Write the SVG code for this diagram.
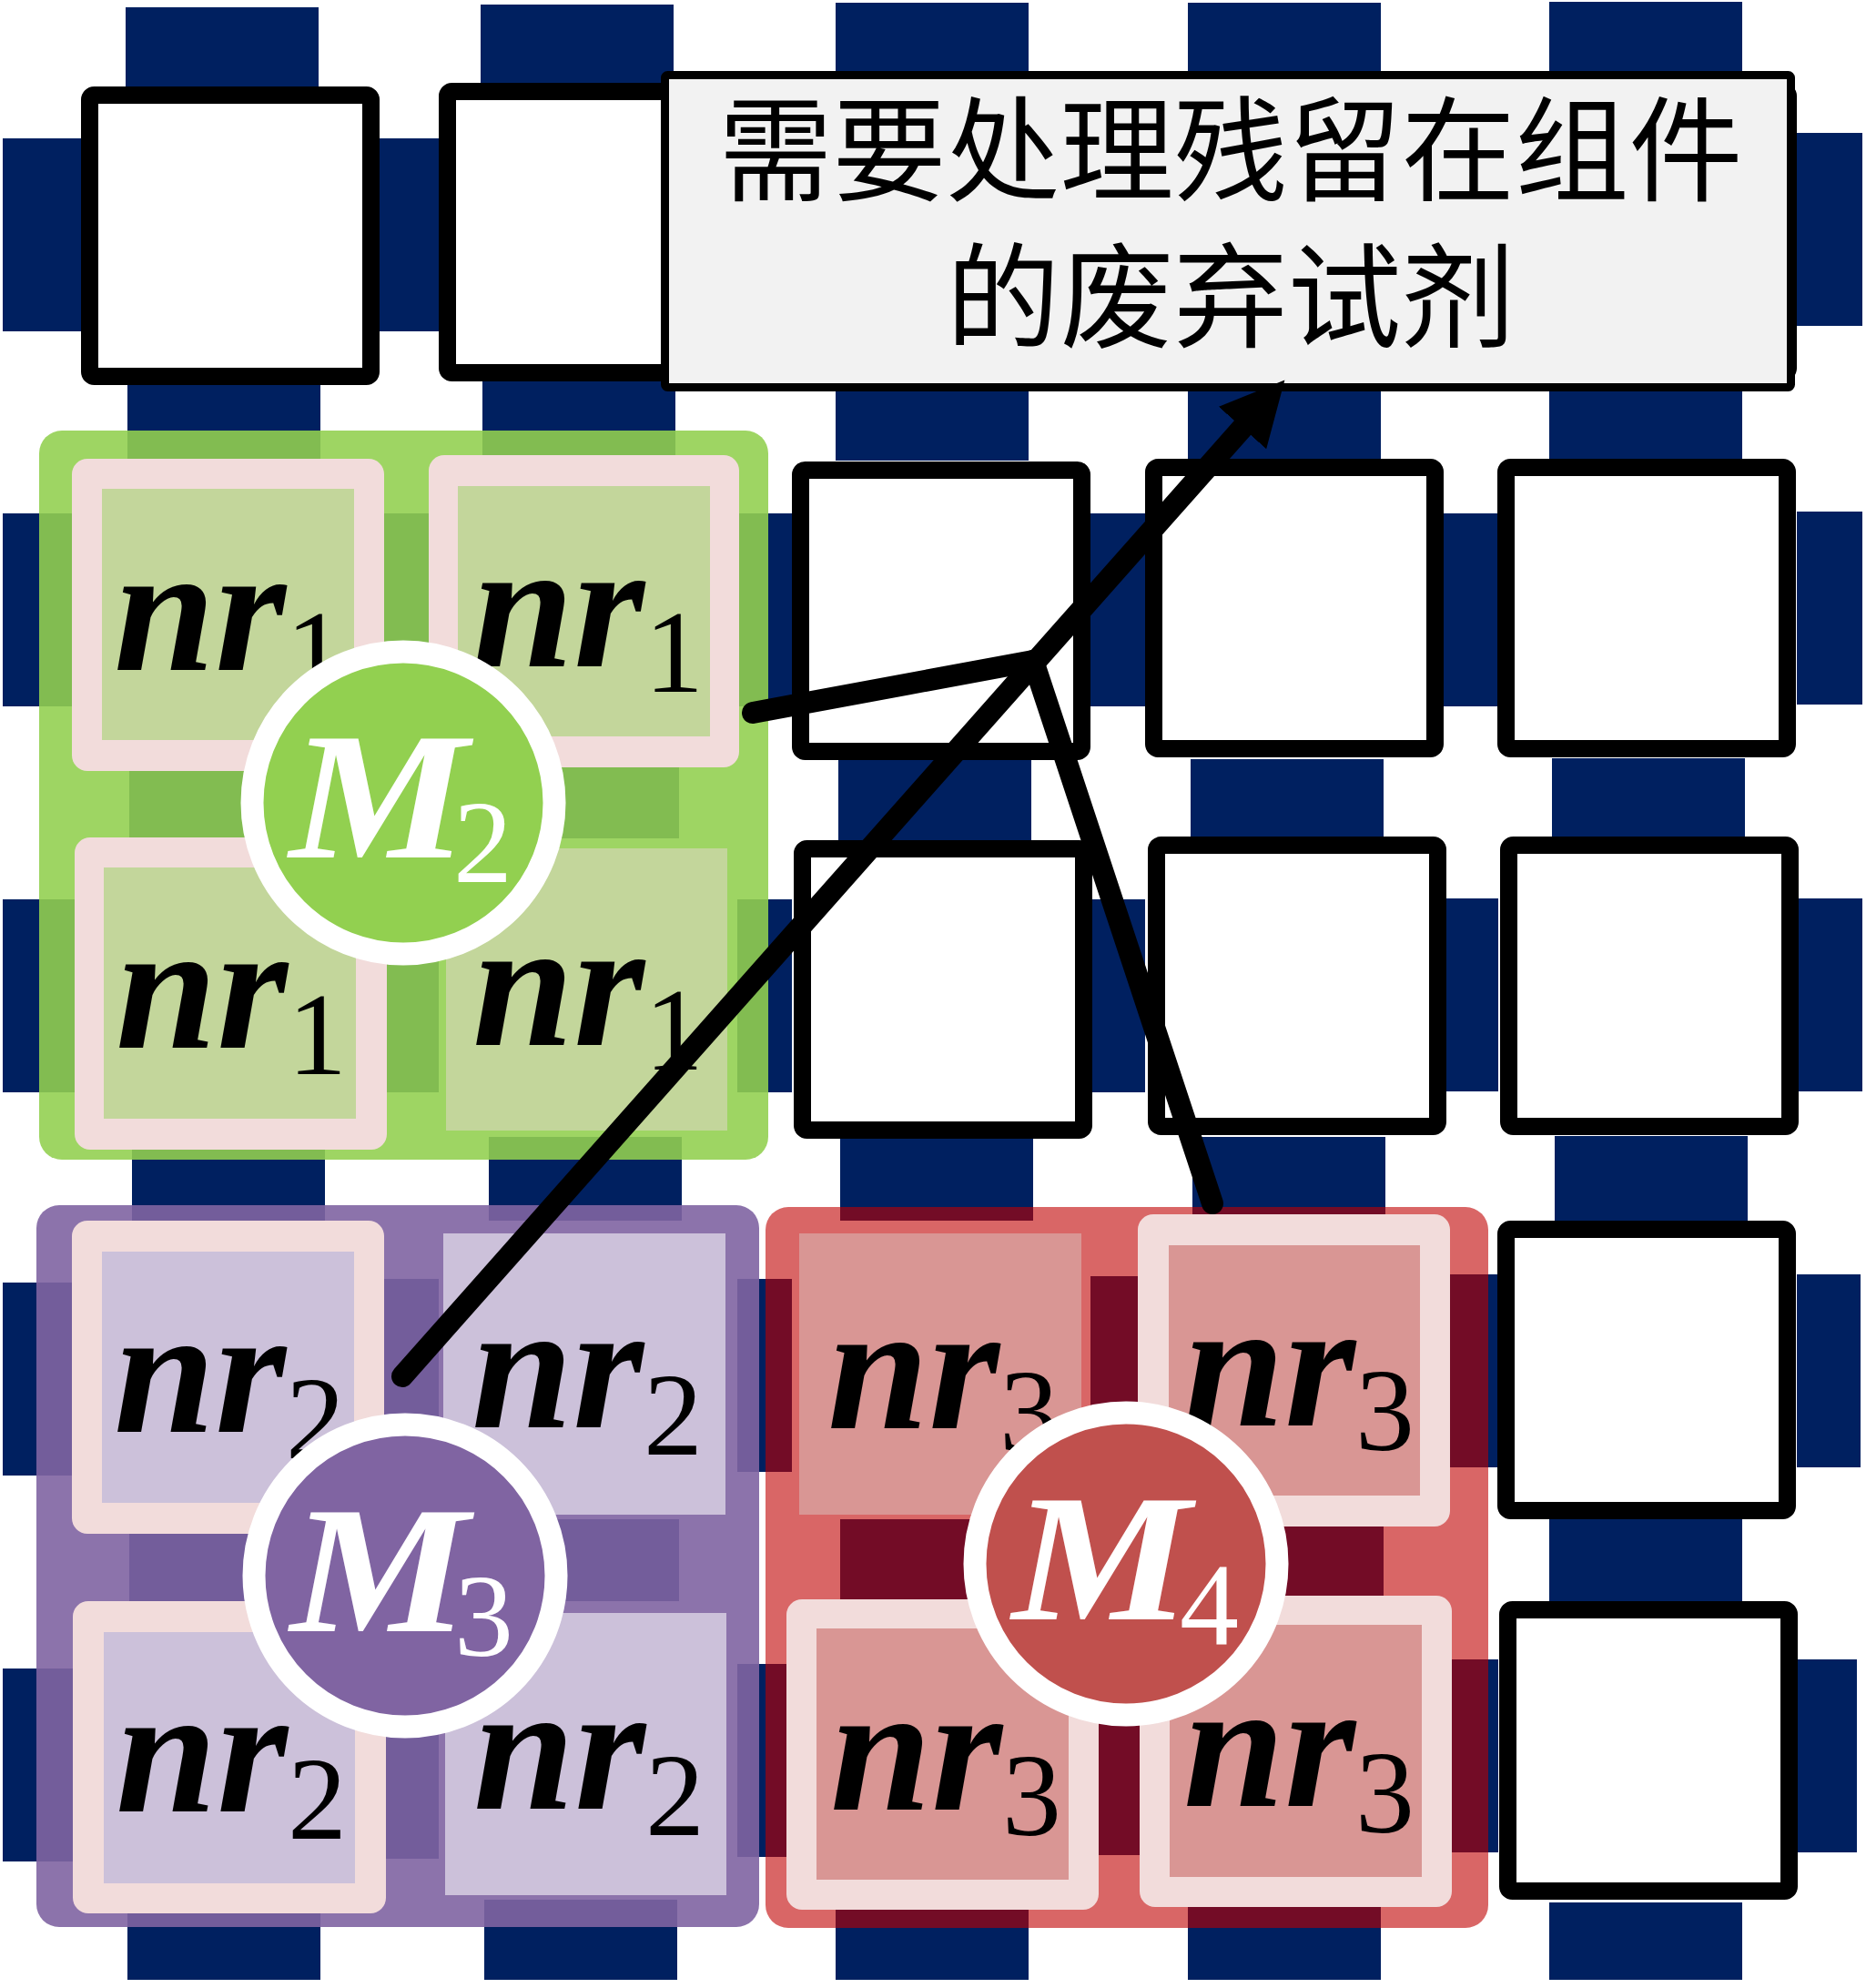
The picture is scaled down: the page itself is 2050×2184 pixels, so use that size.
<svg xmlns="http://www.w3.org/2000/svg" width="2050" height="2184" viewBox="0 0 2050 2184">
<defs>
<style>
.pad{fill:#002060}
.box{fill:#ffffff;stroke:#000000;stroke-width:19}
.pink{fill:#f2dcdb}
.cg{fill:#c3d69b}
.cp{fill:#ccc1da}
.cr{fill:#d99694}
.lbl{font-family:"Liberation Serif","Times New Roman",serif;font-weight:bold;font-style:italic;font-size:200px;fill:#000000}
.sub{font-family:"Liberation Serif","Times New Roman",serif;font-weight:normal;font-style:normal;font-size:130px}
.mlbl{font-family:"Liberation Serif","Times New Roman",serif;font-weight:bold;font-style:italic;font-size:200px;fill:#ffffff}
.msub{font-family:"Liberation Serif","Times New Roman",serif;font-weight:normal;font-style:normal;font-size:130px;fill:#ffffff}
.ring{stroke:#ffffff;stroke-width:25}
.conn{fill:none;stroke:#000000;stroke-width:24;stroke-linecap:round;stroke-linejoin:round}
.callout-text{font-family:"Noto Sans CJK SC","Noto Sans CJK JP",sans-serif;font-size:125px;fill:#000000;text-anchor:middle}
</style>
<marker id="arrow" markerUnits="userSpaceOnUse" markerWidth="72" markerHeight="72" refX="0" refY="35" orient="auto">
<path d="M0,0 L70,35 L0,70 z" fill="#000000"/>
</marker>
</defs>
<rect x="0" y="0" width="2050" height="2184" fill="#ffffff"/>

<g id="pads">
<rect class="pad" x="3" y="152" width="86" height="212"/>
<rect class="pad" x="417" y="152" width="65" height="212"/>
<rect class="pad" x="810" y="152" width="60" height="212"/>
<rect class="pad" x="1198" y="152" width="60" height="212"/>
<rect class="pad" x="1586" y="146" width="60" height="212"/>
<rect class="pad" x="1974" y="146" width="72" height="212"/>
<rect class="pad" x="3" y="564" width="86" height="212"/>
<rect class="pad" x="417" y="564" width="65" height="212"/>
<rect class="pad" x="810" y="564" width="60" height="212"/>
<rect class="pad" x="1198" y="564" width="60" height="212"/>
<rect class="pad" x="1586" y="564" width="60" height="212"/>
<rect class="pad" x="1974" y="562" width="72" height="212"/>
<rect class="pad" x="3" y="988" width="86" height="212"/>
<rect class="pad" x="417" y="988" width="65" height="212"/>
<rect class="pad" x="810" y="988" width="60" height="212"/>
<rect class="pad" x="1198" y="988" width="60" height="212"/>
<rect class="pad" x="1586" y="987" width="60" height="212"/>
<rect class="pad" x="1974" y="987" width="72" height="212"/>
<rect class="pad" x="3" y="1409" width="86" height="212"/>
<rect class="pad" x="417" y="1405" width="65" height="212"/>
<rect class="pad" x="810" y="1405" width="60" height="212"/>
<rect class="pad" x="1198" y="1402" width="60" height="212"/>
<rect class="pad" x="1586" y="1400" width="60" height="212"/>
<rect class="pad" x="1974" y="1400" width="70" height="212"/>
<rect class="pad" x="3" y="1833" width="86" height="212"/>
<rect class="pad" x="417" y="1830" width="65" height="212"/>
<rect class="pad" x="810" y="1828" width="60" height="212"/>
<rect class="pad" x="1198" y="1826" width="60" height="212"/>
<rect class="pad" x="1586" y="1823" width="60" height="212"/>
<rect class="pad" x="1974" y="1823" width="66" height="212"/>
<rect class="pad" x="138" y="8" width="212" height="87"/>
<rect class="pad" x="140" y="423" width="212" height="83"/>
<rect class="pad" x="142" y="834" width="212" height="87"/>
<rect class="pad" x="145" y="1249" width="212" height="92"/>
<rect class="pad" x="142" y="1669" width="212" height="90"/>
<rect class="pad" x="140" y="2087" width="212" height="88"/>
<rect class="pad" x="528" y="5" width="212" height="86"/>
<rect class="pad" x="530" y="419" width="212" height="87"/>
<rect class="pad" x="534" y="834" width="212" height="87"/>
<rect class="pad" x="537" y="1249" width="212" height="92"/>
<rect class="pad" x="534" y="1669" width="212" height="90"/>
<rect class="pad" x="532" y="2087" width="212" height="88"/>
<rect class="pad" x="918" y="3" width="212" height="92"/>
<rect class="pad" x="918" y="423" width="212" height="83"/>
<rect class="pad" x="921" y="834" width="212" height="89"/>
<rect class="pad" x="923" y="1249" width="212" height="92"/>
<rect class="pad" x="923" y="1669" width="212" height="90"/>
<rect class="pad" x="918" y="2087" width="212" height="88"/>
<rect class="pad" x="1305" y="3" width="212" height="92"/>
<rect class="pad" x="1305" y="423" width="212" height="81"/>
<rect class="pad" x="1308" y="834" width="212" height="87"/>
<rect class="pad" x="1310" y="1249" width="212" height="92"/>
<rect class="pad" x="1308" y="1669" width="212" height="90"/>
<rect class="pad" x="1305" y="2087" width="212" height="88"/>
<rect class="pad" x="1702" y="2" width="212" height="93"/>
<rect class="pad" x="1702" y="419" width="212" height="85"/>
<rect class="pad" x="1705" y="833" width="212" height="86"/>
<rect class="pad" x="1708" y="1248" width="212" height="93"/>
<rect class="pad" x="1702" y="1669" width="212" height="90"/>
<rect class="pad" x="1702" y="2090" width="212" height="85"/>
</g>

<g id="boxes">
<rect class="box" x="98.5" y="104.5" width="309" height="309" rx="5"/>
<rect class="box" x="491.5" y="100.5" width="309" height="309" rx="5"/>
<rect class="box" x="879.5" y="100.5" width="309" height="309" rx="5"/>
<rect class="box" x="1267.5" y="100.5" width="309" height="309" rx="5"/>
<rect class="box" x="1655.5" y="100.5" width="309" height="309" rx="5"/>
<rect class="box" x="879.5" y="516.5" width="309" height="309" rx="5"/>
<rect class="box" x="1267.5" y="513.5" width="309" height="309" rx="5"/>
<rect class="box" x="1654.5" y="513.5" width="309" height="309" rx="5"/>
<rect class="box" x="881.5" y="932.5" width="309" height="309" rx="5"/>
<rect class="box" x="1270.5" y="928.5" width="309" height="309" rx="5"/>
<rect class="box" x="1657.5" y="928.5" width="309" height="309" rx="5"/>
<rect class="box" x="1654.5" y="1350.5" width="309" height="309" rx="5"/>
<rect class="box" x="1656.5" y="1768.5" width="309" height="309" rx="5"/>
</g>

<g id="callout">
<rect x="730.5" y="82.5" width="1237" height="343" rx="3" fill="#f2f2f2" stroke="#000000" stroke-width="9"/>
<text class="callout-text" x="1352" y="211">需要处理残留在组件</text>
<text class="callout-text" x="1352" y="372">的废弃试剂</text>
</g>

<g id="group-M2">
<rect x="43" y="473" width="801" height="801" rx="25" fill="#92d050" fill-opacity="0.89"/>
<rect class="pink" x="79" y="504" width="343" height="343" rx="17"/>
<rect class="cg" x="112" y="537" width="277" height="276"/>
<rect class="pink" x="471" y="500" width="341" height="343" rx="17"/>
<rect class="cg" x="503" y="534" width="277" height="275"/>
<rect class="pink" x="82" y="920" width="343" height="343" rx="17"/>
<rect class="cg" x="114" y="953" width="277" height="276"/>
<rect class="cg" x="490" y="932" width="309" height="310"/>
<text class="lbl" x="125" y="736">nr<tspan class="sub" dy="24">1</tspan></text>
<text class="lbl" x="519" y="732">nr<tspan class="sub" dy="28">1</tspan></text>
<text class="lbl" x="127" y="1151">nr<tspan class="sub" dy="29">1</tspan></text>
<text class="lbl" x="519" y="1148">nr<tspan class="sub" dy="27">1</tspan></text>
<circle class="ring" cx="443" cy="882" r="166" fill="#92d050"/>
<text class="mlbl" x="318" y="942" textLength="196" lengthAdjust="spacingAndGlyphs">M</text>
<text class="msub" x="498" y="969">2</text>
</g>

<g id="group-M3">
<rect x="40" y="1324" width="794" height="793" rx="25" fill="#8064a2" fill-opacity="0.9"/>
<rect class="pink" x="79" y="1341" width="343" height="344" rx="17"/>
<rect class="cp" x="112" y="1375" width="277" height="276"/>
<rect class="cp" x="487" y="1355" width="310" height="309"/>
<rect class="pink" x="80" y="1759" width="344" height="343" rx="17"/>
<rect class="cp" x="114" y="1793" width="276" height="276"/>
<rect class="cp" x="489" y="1772" width="309" height="310"/>
<text class="lbl" x="125" y="1573">nr<tspan class="sub" dy="29">2</tspan></text>
<text class="lbl" x="518" y="1568">nr<tspan class="sub" dy="30">2</tspan></text>
<text class="lbl" x="127" y="1990">nr<tspan class="sub" dy="30">2</tspan></text>
<text class="lbl" x="520" y="1987">nr<tspan class="sub" dy="29">2</tspan></text>
<circle class="ring" cx="445" cy="1731" r="166" fill="#8064a2"/>
<text class="mlbl" x="319" y="1792" textLength="196" lengthAdjust="spacingAndGlyphs">M</text>
<text class="msub" x="499" y="1819">3</text>
</g>

<g id="group-M4">
<rect x="841" y="1326" width="794" height="792" rx="25" fill="#c00000" fill-opacity="0.6"/>
<rect class="cr" x="878" y="1355" width="310" height="309"/>
<rect class="pink" x="1250" y="1334" width="343" height="343" rx="17"/>
<rect class="cr" x="1284" y="1368" width="276" height="275"/>
<rect class="pink" x="864" y="1757" width="343" height="341" rx="17"/>
<rect class="cr" x="897" y="1789" width="277" height="276"/>
<rect class="pink" x="1252" y="1753" width="343" height="342" rx="17"/>
<rect class="cr" x="1285" y="1785" width="277" height="277"/>
<text class="lbl" x="909" y="1569">nr<tspan class="sub" dy="25">3</tspan></text>
<text class="lbl" x="1300" y="1566">nr<tspan class="sub" dy="27">3</tspan></text>
<text class="lbl" x="912" y="1988">nr<tspan class="sub" dy="28">3</tspan></text>
<text class="lbl" x="1300" y="1984">nr<tspan class="sub" dy="29">3</tspan></text>
<circle class="ring" cx="1237" cy="1718" r="166" fill="#c0504d"/>
<text class="mlbl" x="1112" y="1779" textLength="196" lengthAdjust="spacingAndGlyphs">M</text>
<text class="msub" x="1296" y="1807">4</text>
</g>

<g id="connectors">
<path class="conn" d="M442,1512 L1365,470" marker-end="url(#arrow)"/>
<path class="conn" d="M827,783 L1135,726"/>
<path class="conn" d="M1332,1322 L1135,726"/>
</g>
</svg>
